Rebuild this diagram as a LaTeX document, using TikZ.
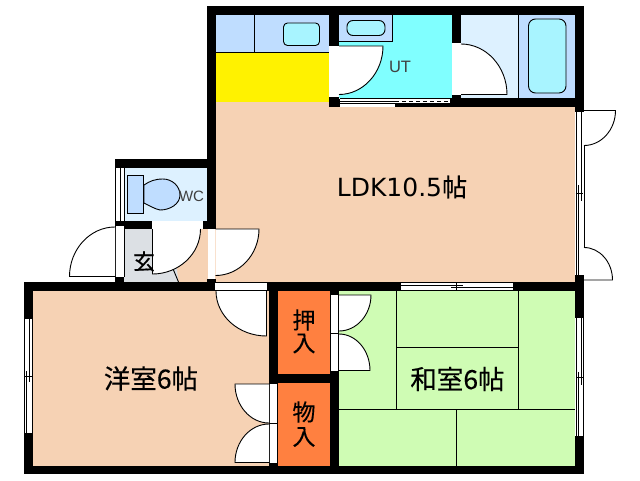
\documentclass[tikz,border=0pt]{standalone}
\usepackage{fontspec}
\setmainfont{Liberation Sans}
\newfontfamily\jpf[FakeBold=0.35]{Noto Sans CJK JP}
\newfontfamily\latf{DejaVu Sans}
\usetikzlibrary{calc}
\definecolor{peach}{HTML}{F6D2B4}
\definecolor{cyanroom}{HTML}{80FFFF}
\definecolor{fixture}{HTML}{BFDDFF}
\definecolor{basin}{HTML}{A8F4FF}
\definecolor{pale}{HTML}{DDF1FF}
\definecolor{tatami}{HTML}{CFFCB4}
\definecolor{closet}{HTML}{FF8040}
\definecolor{entry}{HTML}{DCE0E4}
\tikzset{
  wall/.style={fill=black,draw=none},
  strip/.style={fill=white,draw=none},
  thin line/.style={draw=black,line width=0.9pt},
  fixt/.style={draw=black,line width=0.9pt},
  jp/.style={inner sep=0pt,font=\jpf\fontsize{#1}{#1}\selectfont},
  lat/.style={inner sep=0pt,font=\fontsize{#1}{#1}\selectfont,text=black!75}
}
% \doorleaf{hinge}{leaf end}{arc end}
\newcommand{\doorleaf}[3]{%
  \coordinate (dh) at (#1);\coordinate (da) at (#2);\coordinate (db) at (#3);
  \coordinate (dc) at ($(da)+(db)-(dh)$);
  \fill[white] (dh) -- (da) .. controls ($(da)!.55!(dc)$) and ($(db)!.55!(dc)$) .. (db) -- cycle;
  \draw[thin line] (dh) -- (da) .. controls ($(da)!.55!(dc)$) and ($(db)!.55!(dc)$) .. (db);
}
\begin{document}
\begin{tikzpicture}[x=1pt,y=-1pt]
\fill[white] (0,0) rectangle (640,480);
\useasboundingbox (0,0) rectangle (640,480);
% room fills
\fill[peach] (216,107) rectangle (575,282);
\fill[peach] (216,102) rectangle (329,107);
\fill[peach] (152,229) rectangle (216,282);
\fill[peach] (33,291) rectangle (270,466);
\fill[fixture] (216,15) rectangle (329,52);
\fill[yellow] (216,52) rectangle (329,102);
\fill[cyanroom] (339,15) rectangle (452,98);
\fill[fixture] (339,15) rectangle (392.7,41.5);
\fill[pale] (461,15) rectangle (518.5,98);
\fill[fixture] (518.5,15) rectangle (575,98);
\fill[pale] (124,167) rectangle (207,221);
\fill[entry] (124,229) -- (172,229) -- (178.5,282) -- (124,282) -- cycle;
\fill[tatami] (339,291) rectangle (575,466);
\fill[closet] (278,291) rectangle (330,374);
\fill[closet] (278,383) rectangle (330,466);
% walls
\fill[wall] (207,6) rectangle (584,15);
\fill[wall] (207,6) rectangle (216,229);
\fill[wall] (575,6) rectangle (584,112);
\fill[wall] (329,15) rectangle (339,46);
\fill[wall] (329,97) rectangle (339,107);
\fill[wall] (452,15) rectangle (461,43);
\fill[wall] (452,95) rectangle (461,107);
\fill[wall] (450,98) rectangle (584,107);
\fill[wall] (395,104) rectangle (450,107);
\fill[wall] (115,159) rectangle (216,167.5);
\fill[wall] (115,221) rectangle (152,229);
\fill[wall] (203,221) rectangle (216,229);
\fill[wall] (115,277) rectangle (124,282);
\fill[wall] (207,279) rectangle (216,282);
\fill[wall] (24,282) rectangle (584,291);
\fill[wall] (24,282) rectangle (33,319);
\fill[wall] (24,433) rectangle (33,474);
\fill[wall] (24,466) rectangle (584,474);
\fill[wall] (575,275) rectangle (584,318);
\fill[wall] (575,436) rectangle (584,474);
\fill[wall] (269,291) rectangle (278,466);
\fill[wall] (269,374) rectangle (339,383);
\fill[wall] (330,291) rectangle (339,466);
% wall openings
\fill[strip] (331,46) rectangle (338,97);
\fill[strip] (453,43) rectangle (461,95);
\fill[strip] (340,98) rectangle (450,104);
\fill[strip] (340,104) rectangle (395,107);
\fill[strip] (116,167.5) rectangle (124,221);
\fill[strip] (152.5,221.5) rectangle (203,229);
\fill[strip] (116,226) rectangle (124,277);
\fill[strip] (207.5,229) rectangle (215,279);
\fill[strip] (215,283) rectangle (267,290);
\fill[strip] (400.5,283) rectangle (513,290);
\fill[strip] (331,295) rectangle (338,371);
\fill[strip] (270,384) rectangle (277,463);
\fill[strip] (575.5,112) rectangle (584,275);
\fill[strip] (575.5,318) rectangle (584,436);
\fill[strip] (24,319) rectangle (33,433);
% UT sliding door
\draw[thin line] (339.5,98.5) -- (450,98.5);
\draw[thin line] (339.5,101.2) -- (395,101.2);
\draw[thin line,dash pattern=on 4pt off 3pt] (395,101.2) -- (450,101.2);
\draw[thin line] (339.5,103.8) -- (450,103.8);
\draw[thin line] (339.5,98.5) -- (339.5,106.5);
% LDK / tatami sliding door
\draw[line width=1.2pt] (401,285.2) -- (463,285.2);
\draw[line width=1.2pt] (451,287.6) -- (512.5,287.6);
\draw[thin line] (456.5,283) -- (456.5,290);
% fixtures
\draw[thin line] (216,52.5) -- (329,52.5);
\draw[thin line] (254.5,15) -- (254.5,52.5);
\draw[fixt,fill=basin,rounded corners=4pt] (283.5,23) rectangle (319.5,45.5);
\draw[fixt,fill=fixture] (339,41.5) -- (392.7,41.5) -- (392.7,15);
\draw[fixt,fill=basin,rounded corners=6pt] (347,20.5) rectangle (385,35.5);
\draw[thin line] (518.5,15) -- (518.5,98);
\draw[fixt,fill=basin,rounded corners=7pt] (528.5,19) rectangle (566,93);
% WC
\draw[thin line] (115.5,167.5) -- (115.5,221);
\draw[thin line] (120,167.5) -- (120,221);
\draw[thin line] (124,167.5) -- (124,221);
\draw[thin line] (115.5,226) -- (115.5,277);
\draw[thin line] (124,229) -- (124,277);
\draw[fixt,fill=fixture] (127.5,175) rectangle (143,213.5);
\draw[fixt,fill=fixture] (144,185) .. controls (150,181) and (155,179) .. (163,179) .. controls (172,179) and (180,186) .. (180,195) .. controls (180,204) and (170,210) .. (160,210) .. controls (155,209) and (150,206) .. (144,203) -- cycle;
% windows
\draw[thin line] (576,112) -- (576,275);
\draw[thin line] (578,185) -- (578,275);
\draw[thin line] (581.7,112) -- (581.7,201);
\draw[thin line] (584,112) -- (584,275);
\draw[thin line] (575.5,193.5) -- (583,193.5);
\draw[thin line] (576,318) -- (576,436);
\draw[thin line] (578,372) -- (578,436);
\draw[thin line] (581,318) -- (581,385);
\draw[thin line] (583.5,318) -- (583.5,436);
\draw[thin line] (576,377) -- (583,377);
\draw[thin line] (24,312) -- (24,441);
\draw[thin line] (26.5,371) -- (26.5,433);
\draw[thin line] (29.5,319) -- (29.5,382);
\draw[thin line] (32.5,319) -- (32.5,433);
\draw[thin line] (24,376) -- (32,376);
% tatami seams
\draw[thin line] (396,291) -- (396,409);
\draw[thin line] (518.5,291) -- (518.5,409);
\draw[thin line] (396,347.5) -- (518.5,347.5);
\draw[thin line] (339,409.5) -- (575,409.5);
\draw[thin line] (456.5,409.5) -- (456.5,466);
% entry boundary
\draw[thin line] (173.5,270) -- (178.5,282);
% doors
\doorleaf{339,46}{383,46}{339,94.5}
\doorleaf{461,94.5}{507,94.5}{461,44}
\doorleaf{115,276.5}{69.5,276.5}{115,227}
\doorleaf{152.5,229}{152.5,274}{200.5,229}
\doorleaf{215.5,229}{259,229}{215.5,275.5}
\doorleaf{266.5,291}{266.5,336}{216,291}
\doorleaf{339,295}{371,295}{339,331}
\doorleaf{339,370.5}{370,370.5}{339,334}
\doorleaf{269,384}{235,384}{269,423}
\doorleaf{269,462.5}{235,462.5}{269,424}
\doorleaf{584,110.5}{615.5,110.5}{584,145.5}
\doorleaf{584,280}{612.5,280}{584,247.5}
\draw[thin line] (331,333) -- (339,333);
\draw[thin line] (270,423.5) -- (277,423.5);
% labels
\node[lat=16.5] (ut) at (400,66.5) {UT};
\node[lat=15] (wc) at (191.5,196.5) {WC};
\node[jp=25] (ldk) at (402,187) {{\latf LDK10.5}帖};
\node[jp=22] (gen) at (144,261.5) {玄};
\node[jp=26.5] (yo) at (151,378.5) {洋室6帖};
\node[jp=26.5] (wa) at (457.5,379) {和室6帖};
\node[jp=23] (o1) at (304,320) {押};
\node[jp=23] (i1) at (304,343.5) {入};
\node[jp=23] (b1) at (304,412) {物};
\node[jp=23] (i2) at (304,437) {入};
\end{tikzpicture}
\end{document}
